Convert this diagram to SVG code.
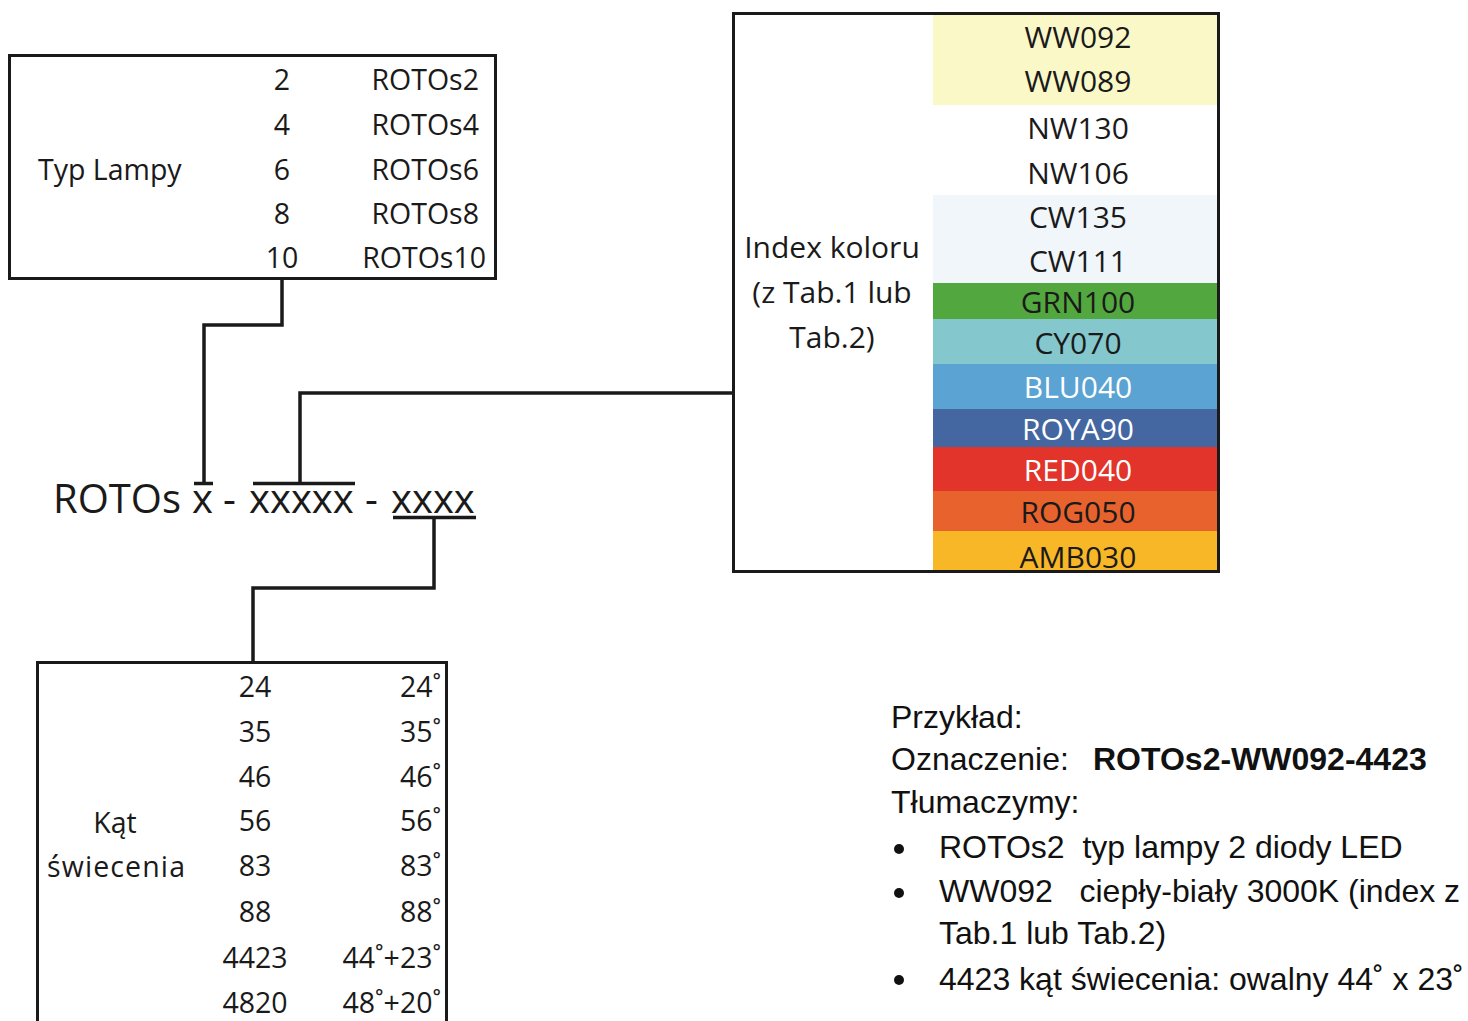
<svg xmlns="http://www.w3.org/2000/svg" width="1468" height="1021" viewBox="0 0 1468 1021">
<style>
.box{fill:#fff;stroke:#1a1a1a;stroke-width:3}
.t{font-family:"Open Sans","Liberation Sans",sans-serif;font-size:28.5px;fill:#1a1a1a}
.c{font-family:"Open Sans","Liberation Sans",sans-serif;font-size:30px;fill:#1a1a1a;text-anchor:middle}
.w{fill:#fff}
.m{text-anchor:middle}
.e{text-anchor:end}
.a{font-family:"Liberation Sans",Arial,sans-serif;font-size:32px;fill:#111}
.b{font-weight:bold}
.ln{fill:none;stroke:#1a1a1a;stroke-width:3.5}
</style>
<rect width="1468" height="1021" fill="#fff"/>
<g id="typ-lampy">
<rect class="box" x="9.5" y="55.5" width="486" height="223"/>
<text class="t" x="38" y="180">Typ Lampy</text>
<text class="t m" x="282" y="90">2</text>
<text class="t m" x="282" y="135">4</text>
<text class="t m" x="282" y="180">6</text>
<text class="t m" x="282" y="224">8</text>
<text class="t m" x="282" y="268">10</text>
<text class="t e" x="479" y="90">ROTOs2</text>
<text class="t e" x="479" y="135">ROTOs4</text>
<text class="t e" x="479" y="180">ROTOs6</text>
<text class="t e" x="479" y="224">ROTOs8</text>
<text class="t e" x="486" y="268">ROTOs10</text>
</g>
<g id="index-koloru">
<rect class="box" x="733.5" y="13.5" width="485" height="558"/>
<rect x="933" y="15" width="284" height="90" fill="#FBF8C8"/>
<rect x="933" y="195" width="284" height="88" fill="#F1F6FA"/>
<rect x="933" y="283" width="284" height="36" fill="#52A83F"/>
<rect x="933" y="319" width="284" height="45" fill="#84C7CC"/>
<rect x="933" y="364" width="284" height="45" fill="#5AA3D2"/>
<rect x="933" y="409" width="284" height="38" fill="#4467A2"/>
<rect x="933" y="447" width="284" height="44" fill="#E2342A"/>
<rect x="933" y="491" width="284" height="40" fill="#E8622D"/>
<rect x="933" y="531" width="284" height="39" fill="#F8B727"/>
<text class="c" x="832" y="258">Index koloru</text>
<text class="c" x="832" y="303">(z Tab.1 lub</text>
<text class="c" x="832" y="348">Tab.2)</text>
<text class="c" x="1078" y="48">WW092</text>
<text class="c" x="1078" y="92">WW089</text>
<text class="c" x="1078" y="139">NW130</text>
<text class="c" x="1078" y="184">NW106</text>
<text class="c" x="1078" y="228">CW135</text>
<text class="c" x="1078" y="272">CW111</text>
<text class="c" x="1078" y="313">GRN100</text>
<text class="c" x="1078" y="354">CY070</text>
<text class="c w" x="1078" y="398">BLU040</text>
<text class="c w" x="1078" y="440">ROYA90</text>
<text class="c w" x="1078" y="481">RED040</text>
<text class="c" x="1078" y="523">ROG050</text>
<text class="c" x="1078" y="568">AMB030</text>
</g>
<g id="kat-swiecenia">
<rect class="box" x="37.5" y="662.5" width="409" height="380"/>
<text class="t m" x="115" y="833">Kąt</text>
<text class="t" x="47" y="877" textLength="138" lengthAdjust="spacing">świecenia</text>
<text class="t m" x="255" y="697">24</text>
<text class="t m" x="255" y="742">35</text>
<text class="t m" x="255" y="787">46</text>
<text class="t m" x="255" y="831">56</text>
<text class="t m" x="255" y="876">83</text>
<text class="t m" x="255" y="922">88</text>
<text class="t m" x="255" y="968">4423</text>
<text class="t m" x="255" y="1013">4820</text>
<text class="t e" x="441" y="697">24˚</text>
<text class="t e" x="441" y="742">35˚</text>
<text class="t e" x="441" y="787">46˚</text>
<text class="t e" x="441" y="831">56˚</text>
<text class="t e" x="441" y="876">83˚</text>
<text class="t e" x="441" y="922">88˚</text>
<text class="t e" x="441" y="968">44˚+23˚</text>
<text class="t e" x="441" y="1013">48˚+20˚</text>
</g>
<g id="kod">
<text class="t" style="font-size:40px" y="513"><tspan x="53">ROTOs</tspan><tspan x="192">x</tspan><tspan x="223">-</tspan><tspan x="249">xxxxx</tspan><tspan x="365">-</tspan><tspan x="391">xxxx</tspan></text>
</g>
<g id="connectors">
<path class="ln" d="M282 279 V325 H204 V483"/>
<path class="ln" d="M194 483.5 H213"/>
<path class="ln" d="M253 483.5 H355"/>
<path class="ln" d="M300 483 V393 H733"/>
<path class="ln" d="M393 517.5 H476"/>
<path class="ln" d="M434 517 V588 H253 V662"/>
</g>
<g id="przyklad">
<text class="a" x="891" y="728">Przykład:</text>
<text class="a" x="891" y="770">Oznaczenie:</text>
<text class="a b" x="1093" y="770">ROTOs2-WW092-4423</text>
<text class="a" x="891" y="813">Tłumaczymy:</text>
<circle cx="899" cy="849" r="5" fill="#111"/>
<circle cx="899" cy="893" r="5" fill="#111"/>
<circle cx="899" cy="980" r="5" fill="#111"/>
<text class="a" x="939" y="858" xml:space="preserve">ROTOs2  typ lampy 2 diody LED</text>
<text class="a" x="939" y="902" xml:space="preserve">WW092   ciepły-biały 3000K (index z</text>
<text class="a" x="939" y="944">Tab.1 lub Tab.2)</text>
<text class="a" x="939" y="990">4423 kąt świecenia: owalny 44˚ x 23˚</text>
</g>
</svg>
